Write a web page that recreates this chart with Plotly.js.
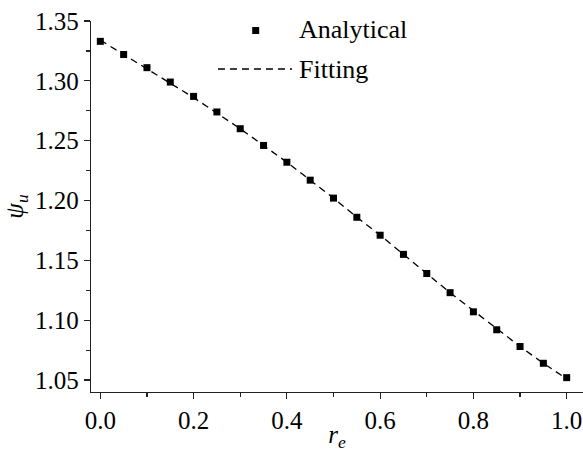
<!DOCTYPE html>
<html>
<head>
<meta charset="utf-8">
<script src="https://cdn.plot.ly/plotly-3.0.1.min.js"></script>
<style>
  html, body { margin: 0; padding: 0; background: #fff; }
  #chart { width: 583px; height: 452px; }
</style>
</head>
<body>
<div id="chart"></div>
<script>
// Dimensionless radius r_e
const rE = [0.00, 0.05, 0.10, 0.15, 0.20, 0.25, 0.30, 0.35, 0.40, 0.45, 0.50,
            0.55, 0.60, 0.65, 0.70, 0.75, 0.80, 0.85, 0.90, 0.95, 1.00];

// Analytical solution of psi_u
const psiAnalytical = [1.333, 1.322, 1.311, 1.299, 1.287, 1.274, 1.260, 1.246, 1.232, 1.217, 1.202,
                       1.186, 1.171, 1.155, 1.139, 1.123, 1.107, 1.092, 1.078, 1.064, 1.052];

// Fitted curve evaluated at the same r_e
const psiFitting = [1.334, 1.322, 1.310, 1.298, 1.286, 1.273, 1.260, 1.246, 1.232, 1.217, 1.202,
                    1.186, 1.171, 1.155, 1.139, 1.123, 1.108, 1.093, 1.078, 1.064, 1.051];

const seriesNames = ["Analytical", "Fitting"];

const FONT = "Liberation Serif";
const FS = 25;
const W = 583, H = 452;
const M = { l: 91, r: 0, t: 21, b: 60 };
const plotW = W - M.l - M.r, plotH = H - M.t - M.b;
// pixel -> paper helpers for the hand-drawn legend
const px = x => (x - M.l) / plotW;
const py = y => (H - M.b - y) / plotH;

const traces = [
  {
    x: rE, y: psiFitting, name: seriesNames[1], type: "scatter", mode: "lines",
    line: { color: "#000", width: 1.3, dash: "7px,5px" },
    showlegend: false
  },
  {
    x: rE, y: psiAnalytical, name: seriesNames[0], type: "scatter", mode: "markers",
    marker: { symbol: "square", size: 7, color: "#000" },
    showlegend: false
  }
];

const axisCommon = {
  showline: true, linecolor: "#222", linewidth: 1.2,
  showgrid: false, zeroline: false, mirror: false,
  ticks: "outside", ticklen: 6, tickwidth: 1.2, tickcolor: "#222",
  tickfont: { family: FONT, size: FS, color: "#000" }
};

const layout = {
  width: W, height: H,
  margin: M,
  font: { family: FONT, size: FS, color: "#000" },
  paper_bgcolor: "#fff", plot_bgcolor: "#fff",
  showlegend: false,
  xaxis: Object.assign({}, axisCommon, {
    range: [-0.02, 1.035], dtick: 0.2, tick0: 0, tickformat: ".1f",
    minor: { dtick: 0.1, ticklen: 4, tickwidth: 1.2, tickcolor: "#222", ticks: "outside" },
    title: { text: "<i>r</i><sub><i>e</i></sub>", font: { family: FONT, size: FS, color: "#000" }, standoff: 3 }
  }),
  yaxis: Object.assign({}, axisCommon, {
    range: [1.04, 1.35], dtick: 0.05, tick0: 1.05, tickformat: ".2f",
    minor: { dtick: 0.025, ticklen: 4, tickwidth: 1.2, tickcolor: "#222", ticks: "outside" },
    title: { text: "<i>ψ</i><sub><i>u</i></sub>", font: { family: FONT, size: FS, color: "#000" }, standoff: 4 }
  }),
  shapes: [
    // legend: square marker
    { type: "rect", xref: "paper", yref: "paper",
      x0: px(252.2), x1: px(259.2), y0: py(34), y1: py(27),
      fillcolor: "#000", line: { width: 0 } },
    // legend: dashed line
    { type: "line", xref: "paper", yref: "paper",
      x0: px(218), x1: px(292), y0: py(69), y1: py(69),
      line: { color: "#000", width: 1.3, dash: "7px,5px" } }
  ],
  annotations: [
    { xref: "paper", yref: "paper", x: px(297), y: py(29), xanchor: "left", yanchor: "middle",
      text: seriesNames[0], showarrow: false, font: { family: FONT, size: 26, color: "#000" } },
    { xref: "paper", yref: "paper", x: px(297), y: py(69), xanchor: "left", yanchor: "middle",
      text: seriesNames[1], showarrow: false, font: { family: FONT, size: 26, color: "#000" } }
  ]
};

Plotly.newPlot("chart", traces, layout, { displayModeBar: false, staticPlot: true });
</script>
</body>
</html>
